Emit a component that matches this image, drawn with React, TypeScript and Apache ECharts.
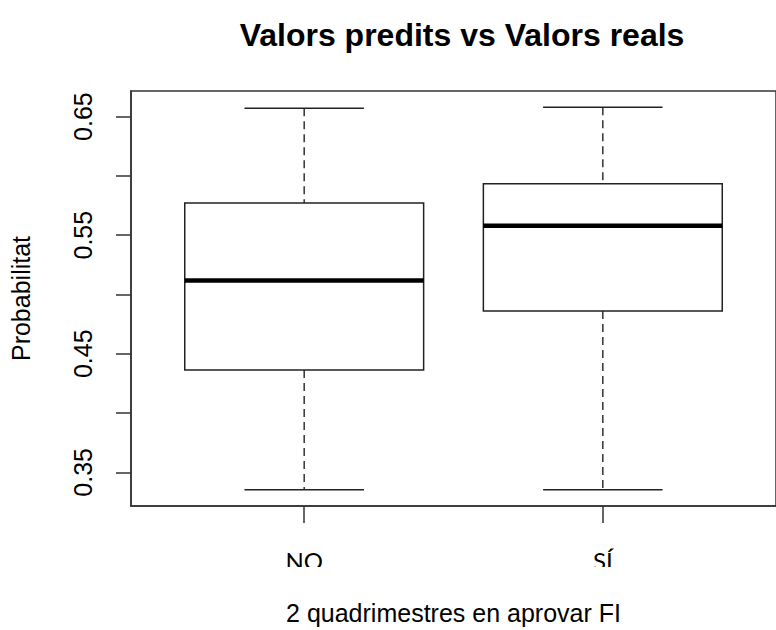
import React, { useEffect, useRef } from "react";
import * as echarts from "echarts";

const categories = ["NO", "SÍ"];
const categoryPositions = [1, 2];
const whiskerLow = [0.3354, 0.3354];
const quartile1 = [0.4363, 0.486];
const medians = [0.5118, 0.558];
const quartile3 = [0.5771, 0.5934];
const whiskerHigh = [0.6571, 0.6579];
const yTicks = [0.35, 0.4, 0.45, 0.5, 0.55, 0.6, 0.65];
const yLabels = [0.35, 0.45, 0.55, 0.65];

const FONT = "'Liberation Sans', Arial, Helvetica, sans-serif";

export default function App() {
  const ref = useRef<HTMLDivElement>(null);
  useEffect(() => {
    document.body.style.margin = "0";
    if (!ref.current) return;
    const chart = echarts.init(ref.current, undefined, { renderer: "svg" });
    const data = categoryPositions.map((x, i) => [
      x,
      whiskerLow[i],
      quartile1[i],
      medians[i],
      quartile3[i],
      whiskerHigh[i],
    ]);
    const lineColor = "#222";
    chart.setOption({
      animation: false,
      backgroundColor: "#fff",
      title: {
        text: "Valors predits vs Valors reals",
        left: 457,
        textAlign: "center",
        top: 14,
        textStyle: { fontFamily: FONT, fontSize: 32, fontWeight: "bold", color: "#000" },
      },
      grid: {
        left: 131,
        top: 91,
        width: 652,
        height: 416,
        show: true,
        borderColor: "#333",
        borderWidth: 1.5,
        backgroundColor: "transparent",
      },
      xAxis: {
        type: "value",
        min: 0.42,
        max: 2.58,
        name: "2 quadrimestres en aprovar FI",
        nameLocation: "middle",
        nameGap: 94,
        nameTextStyle: { fontFamily: FONT, fontSize: 25, color: "#000" },
        splitLine: { show: false },
        axisLine: { show: true, lineStyle: { color: "#333", width: 1.5 } },
        axisTick: {
          show: true,
          length: 17,
          customValues: categoryPositions,
          lineStyle: { color: "#333", width: 1.5 },
        },
        axisLabel: {
          customValues: categoryPositions,
          formatter: (v: number) => categories[Math.round(v) - 1] ?? "",
          margin: 42,
          fontFamily: "Lato, 'Open Sans', sans-serif",
          fontSize: 24,
          color: "#000",
        },
      },
      yAxis: {
        type: "value",
        min: 0.3216,
        max: 0.6716,
        name: "Probabilitat",
        nameLocation: "middle",
        nameRotate: 90,
        nameGap: 98,
        nameTextStyle: { fontFamily: FONT, fontSize: 25, color: "#000" },
        splitLine: { show: false },
        axisLine: { show: true, lineStyle: { color: "#333", width: 1.5 } },
        axisTick: {
          show: true,
          length: 15,
          customValues: yTicks,
          lineStyle: { color: "#333", width: 1.5 },
        },
        axisLabel: {
          customValues: yLabels,
          rotate: 90,
          margin: 36,
          formatter: (v: number) => v.toFixed(2),
          fontFamily: FONT,
          fontSize: 25,
          color: "#000",
        },
      },
      graphic: [
        {
          type: "rect",
          left: 270,
          top: 567,
          shape: { width: 380, height: 25 },
          style: { fill: "#fff" },
          z: 100,
        },
      ],
      series: [
        {
          type: "custom",
          data,
          encode: { x: 0, y: [1, 2, 3, 4, 5] },
          renderItem: (params: any, api: any) => {
            const x = api.value(0);
            const pLow = api.coord([x, api.value(1)]);
            const pQ1 = api.coord([x, api.value(2)]);
            const pMed = api.coord([x, api.value(3)]);
            const pQ3 = api.coord([x, api.value(4)]);
            const pHigh = api.coord([x, api.value(5)]);
            const halfBox = api.size([0.4, 0])[0];
            const halfCap = api.size([0.2, 0])[0];
            const cx = pMed[0];
            const dashed = { stroke: "#333", lineWidth: 1.5, lineDash: [8, 5], fill: "none" };
            const solid = { stroke: lineColor, lineWidth: 1.5, fill: "none" };
            return {
              type: "group",
              children: [
                { type: "line", shape: { x1: cx, y1: pHigh[1], x2: cx, y2: pQ3[1] }, style: dashed },
                { type: "line", shape: { x1: cx, y1: pQ1[1], x2: cx, y2: pLow[1] }, style: dashed },
                { type: "line", shape: { x1: cx - halfCap, y1: pHigh[1], x2: cx + halfCap, y2: pHigh[1] }, style: solid },
                { type: "line", shape: { x1: cx - halfCap, y1: pLow[1], x2: cx + halfCap, y2: pLow[1] }, style: solid },
                {
                  type: "rect",
                  shape: { x: cx - halfBox, y: pQ3[1], width: halfBox * 2, height: pQ1[1] - pQ3[1] },
                  style: solid,
                },
                {
                  type: "line",
                  shape: { x1: cx - halfBox, y1: pMed[1], x2: cx + halfBox, y2: pMed[1] },
                  style: { stroke: "#000", lineWidth: 4.5 },
                },
              ],
            };
          },
        },
      ],
    });
    return () => chart.dispose();
  }, []);
  return <div ref={ref} style={{ width: 776, height: 630 }} />;
}
